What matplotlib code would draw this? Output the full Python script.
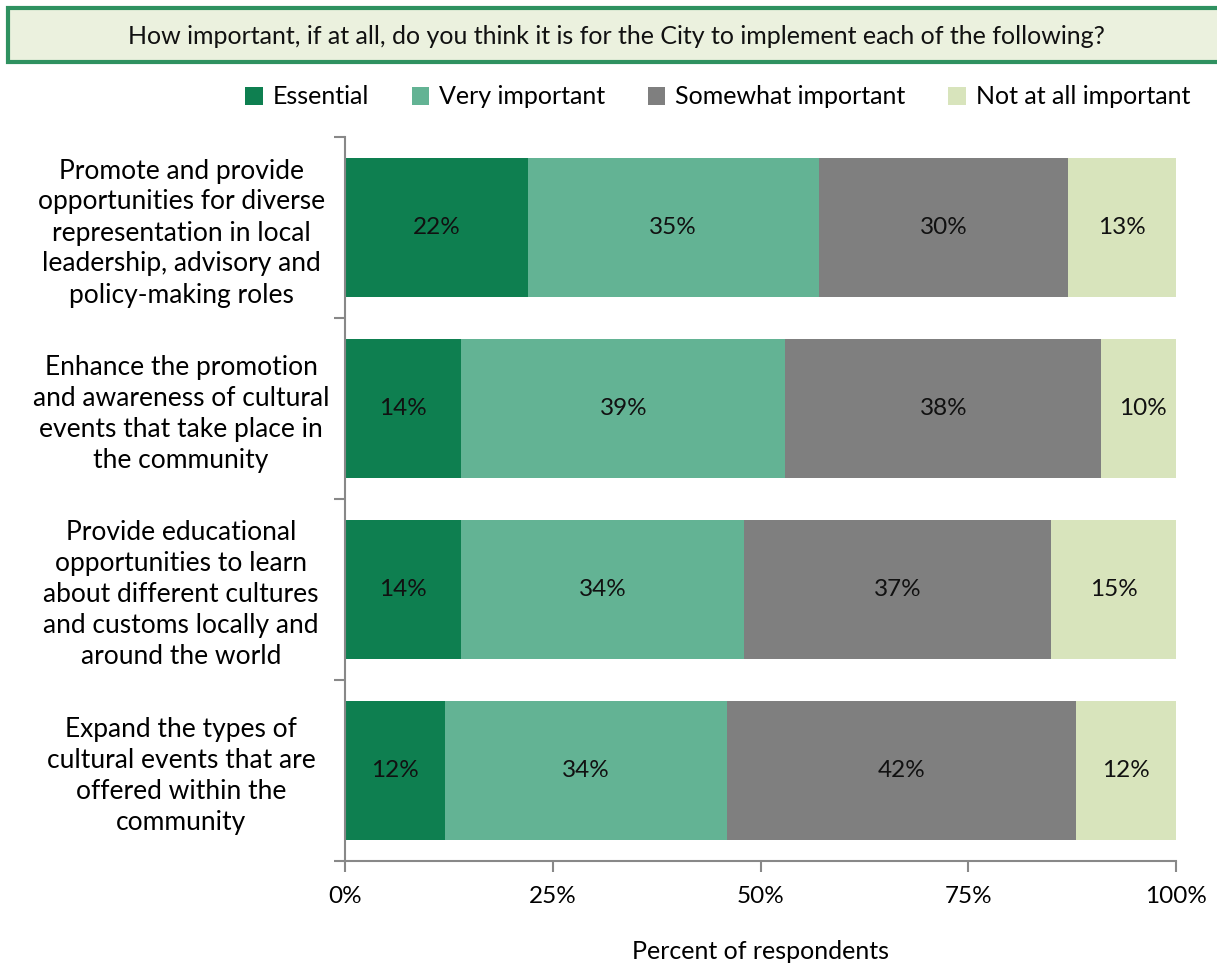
import matplotlib.pyplot as plt
from matplotlib.patches import Rectangle, Patch
from matplotlib.ticker import FixedLocator

plt.rcParams['font.family'] = ['Lato', 'DejaVu Sans']

questions = [
    "Promote and provide\nopportunities for diverse\nrepresentation in local\nleadership, advisory and\npolicy-making roles",
    "Enhance the promotion\nand awareness of cultural\nevents that take place in\nthe community",
    "Provide educational\nopportunities to learn\nabout different cultures\nand customs locally and\naround the world",
    "Expand the types of\ncultural events that are\noffered within the\ncommunity",
]
levels = ["Essential", "Very important", "Somewhat important", "Not at all important"]
essential = [22, 14, 14, 12]
very_important = [35, 39, 34, 34]
somewhat_important = [30, 38, 37, 42]
not_important = [13, 10, 15, 12]
colors = ["#0E7F50", "#63B394", "#7F7F7F", "#D8E4BC"]
xticks = [0, 25, 50, 75, 100]

fig = plt.figure(figsize=(12.17, 9.69), dpi=100)
ax = fig.add_axes([345 / 1217, 1 - 861 / 969, 831 / 1217, 724 / 969])

ypos = list(range(len(questions)))
left = [0] * len(questions)
for name, vals, col in zip(levels, [essential, very_important, somewhat_important, not_important], colors):
    bars = ax.barh(ypos, vals, left=left, height=0.77, color=col, label=name)
    for b, v in zip(bars, vals):
        ax.text(b.get_x() + b.get_width() / 2, b.get_y() + b.get_height() / 2,
                f"{v}%", ha="center", va="center", fontsize=17.5, color="#111111")
    left = [l + v for l, v in zip(left, vals)]

ax.set_xlim(0, 100)
ax.set_ylim(len(questions) - 0.5, -0.5)
ax.set_xticks(xticks)
ax.set_xticklabels([f"{t}%" for t in xticks], fontsize=17.5)
ax.set_yticks(ypos)
ax.set_yticklabels(questions, fontsize=19, ha="center", linespacing=1.3)
ax.tick_params(axis="y", length=0, pad=118)
ax.yaxis.set_minor_locator(FixedLocator([-0.5, 0.5, 1.5, 2.5, 3.5]))
ax.tick_params(axis="y", which="minor", length=8, color="#888888", width=1.5, direction="out")
ax.tick_params(axis="x", length=8, color="#888888", width=1.5, pad=10)
for s in ["top", "right"]:
    ax.spines[s].set_visible(False)
for s in ["left", "bottom"]:
    ax.spines[s].set_color("#888888")
    ax.spines[s].set_linewidth(1.5)
ax.set_xlabel("Percent of respondents", fontsize=18, labelpad=24)

# question banner
fig.patches.append(Rectangle((8 / 1217, 1 - 62 / 969), 1.0, 54 / 969, transform=fig.transFigure,
                             facecolor="#EBF1DE", edgecolor="#2F9160", linewidth=3, clip_on=False))
fig.text(616 / 1217, 1 - 36 / 969,
         "How important, if at all, do you think it is for the City to implement each of the following?",
         ha="center", va="center", fontsize=18, color="#111111")

handles = [Patch(facecolor=c, label=l) for c, l in zip(colors, levels)]
fig.legend(handles=handles, loc="center right", bbox_to_anchor=(1200 / 1217, 1 - 97 / 969),
           ncol=4, frameon=False, fontsize=18, handlelength=0.7, handleheight=0.7,
           handletextpad=0.4, columnspacing=1.7, borderaxespad=0)

fig.savefig("out.png", dpi=100)
